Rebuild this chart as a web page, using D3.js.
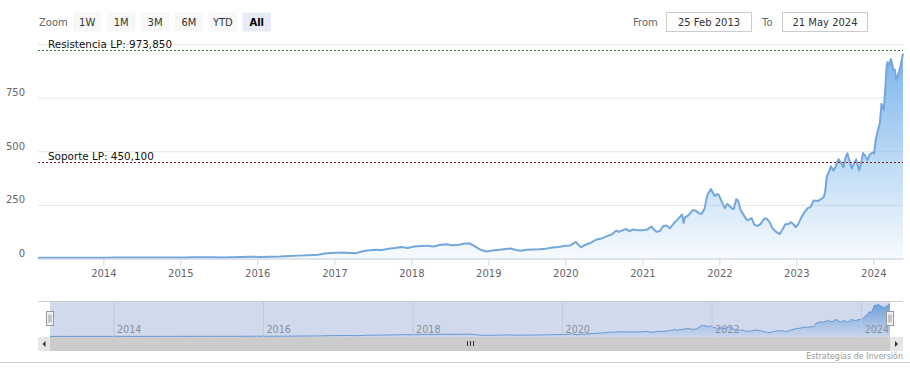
<!DOCTYPE html>
<html>
<head>
<meta charset="utf-8">
<script src="https://cdn.jsdelivr.net/npm/d3@7"></script>
<style>
  html, body { margin: 0; padding: 0; background: #fff; }
  svg { display: block; font-family: "DejaVu Sans", Verdana, sans-serif; }
</style>
</head>
<body>
<svg id="chart" width="910" height="376"></svg>
<script>
// ---------------- DATA ----------------
const dates = [
  "2013-02-25","2013-04-15","2013-06-01","2013-07-15","2013-09-01","2013-10-15","2013-12-01",
  "2014-01-15","2014-03-01","2014-04-15","2014-06-01","2014-07-15","2014-09-01","2014-10-15","2014-12-01",
  "2015-01-15","2015-03-01","2015-04-15","2015-06-01","2015-07-15","2015-09-01","2015-10-15","2015-12-01",
  "2016-01-20","2016-03-01","2016-04-15","2016-06-01","2016-07-15","2016-09-01","2016-10-15","2016-11-15","2016-12-15",
  "2017-01-15","2017-02-15","2017-03-15","2017-04-15","2017-05-15","2017-06-15","2017-07-15","2017-08-15","2017-09-15","2017-10-15","2017-11-15","2017-12-15",
  "2018-01-15","2018-02-15","2018-03-15","2018-04-15","2018-05-15","2018-06-15","2018-07-15","2018-08-15","2018-09-05","2018-10-01","2018-10-20","2018-11-10","2018-11-25","2018-12-24",
  "2019-01-20","2019-02-15","2019-03-15","2019-04-15","2019-05-15","2019-06-05","2019-07-01","2019-08-01","2019-09-01","2019-10-01","2019-11-01","2019-12-01",
  "2020-01-01","2020-01-25","2020-02-19","2020-03-16","2020-04-01","2020-04-25","2020-05-25","2020-06-20","2020-07-15","2020-08-10","2020-08-30","2020-09-10","2020-09-25","2020-10-15","2020-10-30","2020-11-15","2020-12-01","2020-12-20",
  "2021-01-10","2021-01-25","2021-02-12","2021-02-25","2021-03-08","2021-03-25","2021-04-10","2021-04-25","2021-05-12","2021-05-28","2021-06-15","2021-07-08","2021-07-15","2021-07-22","2021-08-05","2021-08-29","2021-09-12","2021-09-28","2021-10-08","2021-10-22","2021-11-05","2021-11-22","2021-12-02","2021-12-10","2021-12-22","2021-12-30",
  "2022-01-12","2022-01-27","2022-02-08","2022-02-18","2022-03-02","2022-03-10","2022-03-22","2022-03-30","2022-04-12","2022-04-28","2022-05-12","2022-05-24","2022-06-03","2022-06-16","2022-06-30","2022-07-15","2022-08-01","2022-08-12","2022-08-26","2022-09-09","2022-09-26","2022-10-14","2022-10-28","2022-11-10","2022-11-28","2022-12-06","2022-12-20","2022-12-29",
  "2023-01-10","2023-01-25","2023-02-08","2023-02-24","2023-03-10","2023-03-24","2023-04-12","2023-04-28","2023-05-12","2023-05-18","2023-05-26","2023-06-02","2023-06-14","2023-06-26","2023-07-05","2023-07-20","2023-08-02","2023-08-12","2023-08-22","2023-08-31","2023-09-12","2023-09-21","2023-10-02","2023-10-12","2023-10-26","2023-11-06","2023-11-14","2023-11-24","2023-12-05","2023-12-15","2023-12-29",
  "2024-01-05","2024-01-12","2024-01-22","2024-02-01","2024-02-09","2024-02-20","2024-02-27","2024-03-04","2024-03-08","2024-03-14","2024-03-25","2024-04-05","2024-04-12","2024-04-19","2024-04-30","2024-05-10","2024-05-21"
];
const prices = [
  3.1,3.2,3.5,3.6,3.7,3.8,3.9,
  4.0,4.6,4.5,4.7,4.5,4.9,4.6,5.1,
  4.9,5.6,5.3,5.5,5.0,5.6,6.8,8.2,
  7.2,8.1,9.0,11.4,13.4,15.6,17.6,23.0,26.0,
  26.5,27.5,26.0,25.0,34.0,38.0,41.0,40.0,45.0,49.0,54.0,49.0,
  56,58,60,56,63,66,62,64,69,71,62,50,41,33,
  37,40,43,47,40,36,41,42,43,46,51,54,
  59,61,77,52,62,71,87,93,103,113,130,124,130,138,127,135,133,132,
  133,136,149,136,124,128,152,154,141,162,180,205,166,192,200,226,222,210,208,230,296,324,305,292,300,296,
  265,235,255,245,233,230,276,272,225,200,178,183,188,157,152,160,185,187,172,143,125,114,136,160,162,170,158,146,
  160,192,215,235,240,270,268,276,288,312,385,397,430,410,425,463,445,425,470,490,450,420,445,462,410,455,492,478,458,485,494,
  490,548,596,630,721,694,787,895,915,900,930,880,881,830,864,898,955
];
const yTickValues = [0, 250, 500, 750, 1000];
const yTickLabels = ["0", "250", "500", "750", ""];
const refLevels = [973.85, 450.1];
const refLabels = ["Resistencia LP: 973,850", "Soporte LP: 450,100"];
const refColors = ["#2e7d32", "#8b1a1a"];
const zoomButtons = ["1W", "1M", "3M", "6M", "YTD", "All"];
const fromLabel = "25 Feb 2013";
const toLabel = "21 May 2024";
const creditText = "Estrategias de Inversión";

// ---------------- SETUP ----------------
const parse = d3.timeParse("%Y-%m-%d");
const data = dates.map((d, i) => ({ date: parse(d), value: prices[i] }));
const svg = d3.select("#chart");
const W = 910;
const plotL = 38, plotR = 903, plotT = 44, plotB = 258.5;

const x = d3.scaleTime().domain([parse("2013-02-25"), parse("2024-05-21")]).range([plotL, plotR]);
const y = d3.scaleLinear().domain([0, 1000]).range([plotB, plotT]);

const defs = svg.append("defs");
const grad = defs.append("linearGradient").attr("id", "areaGrad")
  .attr("gradientUnits", "userSpaceOnUse").attr("x1", 0).attr("x2", 0)
  .attr("y1", y(960)).attr("y2", y(0));
grad.append("stop").attr("offset", "0").attr("stop-color", "#7cb5ec").attr("stop-opacity", 1);
grad.append("stop").attr("offset", "1").attr("stop-color", "#7cb5ec").attr("stop-opacity", 0.06);

// ---------------- RANGE SELECTOR ----------------
const rs = svg.append("g").attr("font-size", "10px");
rs.append("text").attr("x", 39).attr("y", 26).attr("fill", "#666").text("Zoom");
const btnX = d3.scaleBand().domain(zoomButtons).range([73, 271]).paddingInner(0.16);
const btn = rs.selectAll("g.btn").data(zoomButtons).join("g").attr("class", "btn");
btn.append("rect")
  .attr("x", d => btnX(d)).attr("y", 12.5).attr("width", btnX.bandwidth()).attr("height", 19)
  .attr("rx", 2).attr("fill", d => d === "All" ? "#e6ebf5" : "#f7f7f7");
btn.append("text")
  .attr("x", d => btnX(d) + btnX.bandwidth() / 2).attr("y", 26).attr("text-anchor", "middle")
  .attr("fill", d => d === "All" ? "#000" : "#333")
  .attr("font-weight", d => d === "All" ? "bold" : "normal")
  .text(d => d);

rs.append("text").attr("x", 633).attr("y", 26).attr("fill", "#666").text("From");
rs.append("rect").attr("x", 666.5).attr("y", 12.5).attr("width", 85).attr("height", 19)
  .attr("fill", "#fff").attr("stroke", "#cccccc");
rs.append("text").attr("x", 709).attr("y", 26).attr("text-anchor", "middle").attr("fill", "#333").text(fromLabel);
rs.append("text").attr("x", 762).attr("y", 26).attr("fill", "#666").text("To");
rs.append("rect").attr("x", 782.5).attr("y", 12.5).attr("width", 85).attr("height", 19)
  .attr("fill", "#fff").attr("stroke", "#cccccc");
rs.append("text").attr("x", 825).attr("y", 26).attr("text-anchor", "middle").attr("fill", "#333").text(toLabel);

// ---------------- MAIN PLOT ----------------
// horizontal grid + y labels
const yAxis = d3.axisLeft(y).tickValues(yTickValues).tickSize(-(plotR - plotL)).tickPadding(13)
  .tickFormat((d, i) => yTickLabels[i]);
const gy = svg.append("g").attr("transform", `translate(${plotL},0)`).call(yAxis);
gy.select(".domain").remove();
gy.selectAll(".tick line").attr("stroke", "#e6e6e6");
gy.selectAll(".tick text").attr("fill", "#666").attr("font-size", "10px")
  .attr("font-family", "DejaVu Sans, Verdana, sans-serif").attr("dy", null).attr("y", -2);

// area + line
const area = d3.area().x(d => x(d.date)).y0(y(0)).y1(d => y(d.value));
const line = d3.line().x(d => x(d.date)).y(d => y(d.value));
svg.append("path").datum(data).attr("d", area).attr("fill", "url(#areaGrad)");
svg.append("path").datum(data).attr("d", line).attr("fill", "none")
  .attr("stroke", "#74a7dc").attr("stroke-width", 2).attr("stroke-linejoin", "round");

// x axis
const xAxis = d3.axisBottom(x).ticks(d3.timeYear.every(1)).tickFormat(d3.timeFormat("%Y"))
  .tickSize(7).tickSizeOuter(0).tickPadding(4.5);
const gx = svg.append("g").attr("transform", `translate(0,${plotB})`).call(xAxis);
gx.select(".domain").attr("stroke", "#ccd6eb");
gx.selectAll(".tick line").attr("stroke", "#ccd6eb");
gx.selectAll(".tick text").attr("fill", "#666").attr("font-size", "10px")
  .attr("font-family", "DejaVu Sans, Verdana, sans-serif");

// reference lines
refLevels.forEach((lv, i) => {
  const yy = Math.round(y(lv)) + 0.5;
  svg.append("line").attr("x1", plotL).attr("x2", plotR).attr("y1", yy).attr("y2", yy)
    .attr("stroke", refColors[i]).attr("stroke-width", 1).attr("stroke-dasharray", "2,2");
  svg.append("text").attr("x", 48).attr("y", yy - 3).attr("font-size", "10.4px")
    .attr("fill", "#111").text(refLabels[i]);
});

// ---------------- NAVIGATOR ----------------
const navL = 50, navR = 890, navT = 301, navB = 337;
const xn = d3.scaleTime().domain(x.domain()).range([navL, navR]);
const yn = d3.scaleLinear().domain([0, 1000]).range([navB - 0.5, navT + 1]);

const ngrad = defs.append("linearGradient").attr("id", "navGrad")
  .attr("gradientUnits", "userSpaceOnUse").attr("x1", 0).attr("x2", 0)
  .attr("y1", yn(960)).attr("y2", yn(0));
ngrad.append("stop").attr("offset", "0").attr("stop-color", "#6fa8e6").attr("stop-opacity", 1);
ngrad.append("stop").attr("offset", "1").attr("stop-color", "#7cb5ec").attr("stop-opacity", 0.1);

const xnAxis = d3.axisBottom(xn).ticks(d3.timeYear.every(2)).tickFormat(d3.timeFormat("%Y"))
  .tickSize(-(navB - navT)).tickSizeOuter(0);
const gxn = svg.append("g").attr("transform", `translate(0,${navB})`).call(xnAxis);
gxn.select(".domain").remove();
gxn.selectAll(".tick line").attr("stroke", "#e6e6e6");
gxn.selectAll(".tick text").remove();

const navArea = d3.area().x(d => xn(d.date)).y0(yn(0)).y1(d => yn(d.value));
const navLine = d3.line().x(d => xn(d.date)).y(d => yn(d.value));
svg.append("path").datum(data).attr("d", navArea).attr("fill", "url(#navGrad)");
svg.append("path").datum(data).attr("d", navLine).attr("fill", "none")
  .attr("stroke", "#6a9fd8").attr("stroke-width", 1);

// mask over selected range
svg.append("rect").attr("x", navL).attr("y", navT).attr("width", navR - navL).attr("height", navB - navT)
  .attr("fill", "rgba(102,133,194,0.3)");
// navigator grid lines over mask (subtle)
gxn.raise();
gxn.selectAll(".tick line").attr("stroke", "#bfc9dd");
gxn.selectAll(".tick").append("text")
  .attr("x", 3).attr("y", -3.7).attr("fill", "#8a8f99").attr("font-size", "9.6px")
  .attr("font-family", "DejaVu Sans, Verdana, sans-serif").attr("text-anchor", "start")
  .text(d => d3.timeFormat("%Y")(d));

// outline
svg.append("line").attr("x1", plotL).attr("x2", plotR).attr("y1", navT + 0.5).attr("y2", navT + 0.5)
  .attr("stroke", "#cccccc");

// handles
[navL, navR].forEach(hx => {
  const g = svg.append("g").attr("transform", `translate(${Math.round(hx) - 3.5},311.5)`);
  g.append("rect").attr("width", 7).attr("height", 14).attr("fill", "#f2f2f2").attr("stroke", "#999");
  g.append("line").attr("x1", 2.5).attr("x2", 2.5).attr("y1", 3).attr("y2", 11).attr("stroke", "#999");
  g.append("line").attr("x1", 4.5).attr("x2", 4.5).attr("y1", 3).attr("y2", 11).attr("stroke", "#999");
});

// ---------------- SCROLLBAR ----------------
const sbT = 337, sbH = 14;
svg.append("rect").attr("x", plotL).attr("y", sbT).attr("width", plotR - plotL).attr("height", sbH)
  .attr("fill", "#f2f2f2");
svg.append("rect").attr("x", navL).attr("y", sbT).attr("width", navR - navL).attr("height", sbH)
  .attr("fill", "#cccccc");
// buttons
svg.append("rect").attr("x", plotL).attr("y", sbT).attr("width", navL - plotL).attr("height", sbH).attr("fill", "#e6e6e6");
svg.append("rect").attr("x", navR).attr("y", sbT).attr("width", plotR - navR).attr("height", sbH).attr("fill", "#e6e6e6");
svg.append("path").attr("d", `M${(plotL + navL) / 2 + 1.5},${sbT + 4} L${(plotL + navL) / 2 - 1.5},${sbT + 7} L${(plotL + navL) / 2 + 1.5},${sbT + 10} Z`).attr("fill", "#333");
svg.append("path").attr("d", `M${(plotR + navR) / 2 - 1.5},${sbT + 4} L${(plotR + navR) / 2 + 1.5},${sbT + 7} L${(plotR + navR) / 2 - 1.5},${sbT + 10} Z`).attr("fill", "#333");
// grip
const gc = Math.round((navL + navR) / 2);
[-3, 0, 3].forEach(o => {
  svg.append("line").attr("x1", gc + o + 0.5).attr("x2", gc + o + 0.5).attr("y1", sbT + 4).attr("y2", sbT + 9)
    .attr("stroke", "#333").attr("stroke-width", 1);
});

// ---------------- FOOTER ----------------
svg.append("line").attr("x1", 0).attr("x2", W).attr("y1", 362.5).attr("y2", 362.5).attr("stroke", "#d0d0d0");
svg.append("text").attr("x", 903).attr("y", 359).attr("text-anchor", "end")
  .attr("font-size", "8px").attr("fill", "#999").text(creditText);
</script>
</body>
</html>
